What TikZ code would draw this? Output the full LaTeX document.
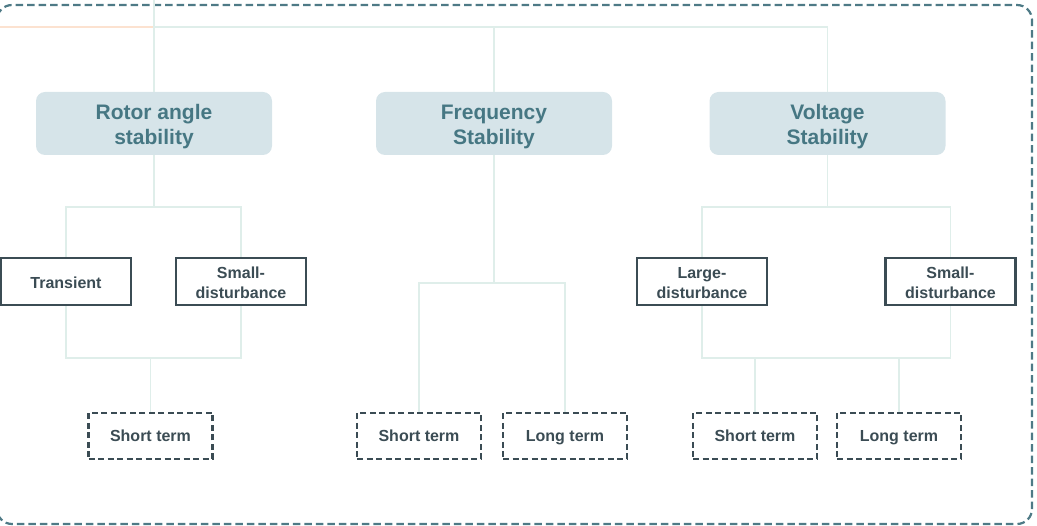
\documentclass[tikz,border=0pt]{standalone}
\usepackage{fontspec}
\setmainfont{Liberation Sans}
\usetikzlibrary{calc}
\definecolor{headfill}{HTML}{D6E4E9}
\definecolor{headtext}{HTML}{467783}
\definecolor{boxline}{HTML}{3B4C54}
\definecolor{linkcol}{HTML}{DFEEEA}
\definecolor{framecol}{HTML}{4E7A86}
\definecolor{accent}{HTML}{FCE2D0}
\tikzset{
  x=1pt, y=-1pt,
  headbox/.style={rectangle, rounded corners=9pt, fill=headfill, text=headtext,
    minimum width=236pt, minimum height=63pt, align=center,
    text height=42pt, text depth=0.4pt,
    font=\fontsize{21}{25}\selectfont\bfseries, inner sep=0pt},
  typebox/.style={rectangle, draw=boxline, line width=2.2pt, text=boxline,
    minimum width=130pt, minimum height=47pt, align=center,
    text height=35pt, text depth=0pt,
    font=\fontsize{16}{20}\selectfont\bfseries, inner sep=0pt},
  oneline/.style={text height=15pt, text depth=0pt},
  termbox/.style={rectangle, draw=boxline, line width=2.2pt, dash pattern=on 6pt off 3.5pt,
    text=boxline, minimum width=124pt, minimum height=46pt, align=center,
    text height=12pt, text depth=0pt,
    font=\fontsize{16}{20}\selectfont\bfseries, inner sep=0pt},
  link/.style={draw=linkcol, line width=1.6pt},
  frame/.style={draw=framecol, line width=2.2pt, dash pattern=on 7.5pt off 4pt, rounded corners=15pt}
}
\begin{document}
\begin{tikzpicture}
\useasboundingbox (0,0) rectangle (1037,526);

% outer dashed frame
\draw[frame] (-3,5) rectangle (1032,524);

% category headers
\node[headbox] (ra) at (154,123.5) {Rotor angle\\stability};
\node[headbox] (fs) at (494,123.5) {Frequency\\Stability};
\node[headbox] (vs) at (827.5,123.5) {Voltage\\Stability};

% disturbance types
\node[typebox, oneline] (ra1) at (66,281.5) {Transient};
\node[typebox] (ra2) at (241,281.5) {Small-\\disturbance};
\node[typebox] (vs1) at (702,281.5) {Large-\\disturbance};
\node[typebox] (vs2) at (950.5,281.5) {Small-\\disturbance};

% time frames
\node[termbox] (ra3) at (150.5,436) {Short term};
\node[termbox] (fs1) at (419,436) {Short term};
\node[termbox] (fs2) at (565,436) {Long term};
\node[termbox] (vs3) at (755,436) {Short term};
\node[termbox] (vs4) at (899,436) {Long term};

% top bus
\coordinate (bus) at (0,27);
\coordinate (top) at (0,0);
\draw[draw=accent, line width=1.6pt] (bus) -- (ra.north |- bus);
\draw[link] (ra.north |- bus) -- (vs.north |- bus);
\draw[link] (ra.north |- top) -- (ra.north);
\draw[link] (fs.north |- bus) -- (fs.north);
\draw[link] (vs.north |- bus) -- (vs.north);

% rotor angle branch
\coordinate (raA) at (0,207);
\coordinate (raB) at (0,358);
\draw[link] (ra.south) -- (ra.south |- raA);
\draw[link] (ra1.north) -- (ra1.north |- raA) -- (ra2.north |- raA) -- (ra2.north);
\draw[link] (ra1.south) -- (ra1.south |- raB) -- (ra2.south |- raB) -- (ra2.south);
\draw[link] (ra3.north |- raB) -- (ra3.north);

% frequency branch
\coordinate (fsA) at (0,283);
\draw[link] (fs.south) -- (fs.south |- fsA);
\draw[link] (fs1.north) -- (fs1.north |- fsA) -- (fs2.north |- fsA) -- (fs2.north);

% voltage branch
\draw[link] (vs.south) -- (vs.south |- raA);
\draw[link] (vs1.north) -- (vs1.north |- raA) -- (vs2.north |- raA) -- (vs2.north);
\draw[link] (vs1.south) -- (vs1.south |- raB) -- (vs2.south |- raB) -- (vs2.south);
\draw[link] (vs3.north |- raB) -- (vs3.north);
\draw[link] (vs4.north |- raB) -- (vs4.north);
\end{tikzpicture}
\end{document}
